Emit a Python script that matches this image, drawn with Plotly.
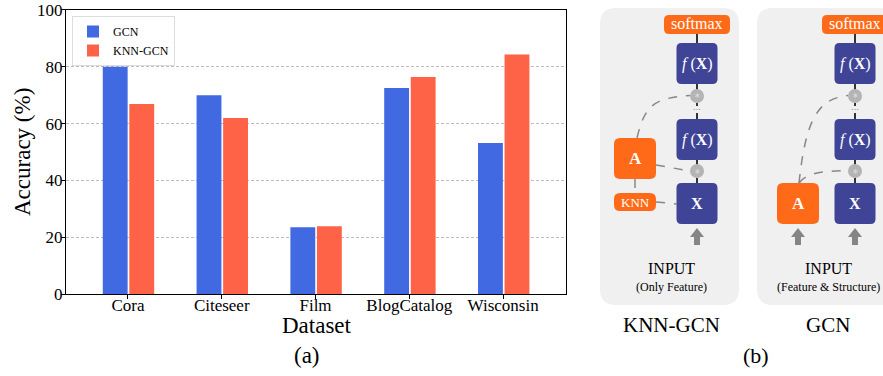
import plotly.graph_objects as go

# Node classification accuracy per dataset
categories = ["Cora", "Citeseer", "Film", "BlogCatalog", "Wisconsin"]
gcn_acc = [80.0, 70.0, 23.6, 72.5, 53.2]
knn_gcn_acc = [66.9, 62.0, 23.9, 76.4, 84.3]
y_ticks = [0, 20, 40, 60, 80, 100]

W, H = 883, 376
SERIF = "Liberation Serif"
BLUE = "#4169E1"
RED = "#FF6347"
ORANGE = "#FF6A19"
NAVY = "#3F4496"
PANEL = "#F0F0F0"
NODE = "#B4B4B4"


def px(x):
    return x / W


def py(y):
    return 1 - y / H


def pt(x, y):
    return f"{px(x):.5f},{py(y):.5f}"


fig = go.Figure()
fig.add_trace(go.Bar(x=categories, y=gcn_acc, name="GCN", marker_color=BLUE,
                     offset=-0.268, width=0.265, marker_line_width=0))
fig.add_trace(go.Bar(x=categories, y=knn_gcn_acc, name="KNN-GCN", marker_color=RED,
                     offset=0.015, width=0.265, marker_line_width=0))

shapes = []
annotations = []


def rrect(x0, y0, x1, y1, r, color):
    path = (f"M {pt(x0 + r, y0)} L {pt(x1 - r, y0)} Q {pt(x1, y0)} {pt(x1, y0 + r)} "
            f"L {pt(x1, y1 - r)} Q {pt(x1, y1)} {pt(x1 - r, y1)} "
            f"L {pt(x0 + r, y1)} Q {pt(x0, y1)} {pt(x0, y1 - r)} "
            f"L {pt(x0, y0 + r)} Q {pt(x0, y0)} {pt(x0 + r, y0)} Z")
    shapes.append(dict(type="path", path=path, xref="paper", yref="paper",
                       fillcolor=color, line=dict(width=0), layer="above"))


def seg(x0, y0, x1, y1, color="#333333", width=2, dash="solid"):
    shapes.append(dict(type="line", xref="paper", yref="paper",
                       x0=px(x0), y0=py(y0), x1=px(x1), y1=py(y1),
                       line=dict(color=color, width=width, dash=dash), layer="above"))


def curve(points, color="#888888", width=1.5):
    (x0, y0), (c1x, c1y), (c2x, c2y), (x1, y1) = points
    path = f"M {pt(x0, y0)} C {pt(c1x, c1y)} {pt(c2x, c2y)} {pt(x1, y1)}"
    shapes.append(dict(type="path", path=path, xref="paper", yref="paper",
                       line=dict(color=color, width=width, dash="dash"), layer="above"))


def node(cx, cy, r=7):
    shapes.append(dict(type="circle", xref="paper", yref="paper",
                       x0=px(cx - r), x1=px(cx + r), y0=py(cy + r), y1=py(cy - r),
                       fillcolor=NODE, line=dict(width=0), layer="above"))
    label("∗", cx, cy, 8, "#DDDDDD")


def arrow(cx, ytop, ybot):
    mid = ytop + 9
    path = (f"M {pt(cx - 3, ybot)} L {pt(cx - 3, mid)} L {pt(cx - 7, mid)} L {pt(cx, ytop)} "
            f"L {pt(cx + 7, mid)} L {pt(cx + 3, mid)} L {pt(cx + 3, ybot)} Z")
    shapes.append(dict(type="path", path=path, xref="paper", yref="paper",
                       fillcolor="#858585", line=dict(width=0), layer="above"))


def label(text, x, y, size, color="black", family=SERIF, angle=0):
    annotations.append(dict(text=text, x=px(x), y=py(y), xref="paper", yref="paper",
                            showarrow=False, xanchor="center", yanchor="middle",
                            textangle=angle, font=dict(family=family, size=size, color=color)))


def gcn_stack(cx):
    # softmax head, two propagation layers and the feature input
    rrect(cx - 33, 15, cx + 33, 34, 5, ORANGE)
    label("softmax", cx, 24, 16, "white")
    seg(cx, 34, cx, 43)
    rrect(cx - 20.5, 43, cx + 20.5, 84, 5, NAVY)
    label("<i>f</i> (<b>X</b>)", cx, 64, 16, "white")
    seg(cx, 84, cx, 90)
    node(cx, 96)
    seg(cx, 103, cx, 106)
    label("···", cx, 109, 8, "#555555")
    seg(cx, 113, cx, 119)
    rrect(cx - 20.5, 119, cx + 20.5, 160, 5, NAVY)
    label("<i>f</i> (<b>X</b>)", cx, 140, 16, "white")
    seg(cx, 160, cx, 165)
    node(cx, 171)
    seg(cx, 178, cx, 183)
    rrect(cx - 20.5, 183, cx + 20.5, 224, 5, NAVY)
    label("<b>X</b>", cx, 203.5, 16, "white")
    arrow(cx, 228, 245)


# Panel: KNN-GCN (features only, graph built by KNN)
rrect(600, 8, 739, 305, 16, PANEL)
gcn_stack(697)
rrect(614, 138, 656, 179, 6, ORANGE)
label("<b>A</b>", 635, 158.5, 17, "white")
rrect(614, 193, 656, 211, 6, ORANGE)
label("KNN", 635, 202, 13, "white")
seg(635, 179, 635, 193, "#888888", 1.5, "dash")
seg(656, 202, 677, 204, "#888888", 1.5, "dash")
seg(656, 165, 690, 171, "#888888", 1.5, "dash")
curve([(637, 138), (645, 104), (655, 98), (690, 95.5)])
label("INPUT", 671, 268, 16)
label("(Only Feature)", 671, 287, 12)
label("KNN-GCN", 671, 325, 21)

# Panel: GCN (features and structure)
rrect(757, 8, 896, 305, 16, PANEL)
gcn_stack(855)
rrect(777, 183, 819, 224, 6, ORANGE)
label("<b>A</b>", 798, 203.5, 17, "white")
arrow(798, 228, 245)
curve([(799, 183), (806, 118), (818, 99), (848, 95.5)])
curve([(799, 183), (806, 173), (822, 171), (848, 170.5)])
label("INPUT", 828, 268, 16)
label("(Feature &amp; Structure)", 828, 287, 12)
label("GCN", 828, 325, 21)
label("(b)", 756, 355, 22)

# Bar chart axis labels
label("Accuracy (%)", 22, 152, 23, angle=-90)
label("Dataset", 317, 325, 23)
label("(a)", 307, 355, 23)

axis_common = dict(showline=True, linecolor="black", linewidth=1.3, mirror=True,
                   ticks="outside", ticklen=4, tickwidth=1.1, tickcolor="black",
                   automargin=False,
                   tickfont=dict(family=SERIF, size=17, color="black"))

fig.update_layout(
    template="none",
    width=W, height=H,
    margin=dict(l=0, r=0, t=0, b=0, pad=0, autoexpand=False),
    paper_bgcolor="white", plot_bgcolor="white",
    font=dict(family=SERIF),
    xaxis=dict(domain=[px(66), px(566)], range=[-0.66, 4.67], showgrid=False,
               ticklabelstandoff=-9, **axis_common),
    yaxis=dict(domain=[py(294.3), py(9.8)], range=[0, 100], tickvals=y_ticks,
               showgrid=True, gridcolor="#BDBDBD", gridwidth=0.8, griddash="3px,2px",
               zeroline=False, ticklabelstandoff=-5, **axis_common),
    legend=dict(x=px(72), y=py(16), xanchor="left", yanchor="top",
                bgcolor="white", bordercolor="#DDDDDD", borderwidth=1,
                font=dict(family=SERIF, size=12, color="black"),
                itemwidth=30, tracegroupgap=0),
    shapes=shapes,
    annotations=annotations,
    bargap=0.2,
)

fig.write_html("out.html")
